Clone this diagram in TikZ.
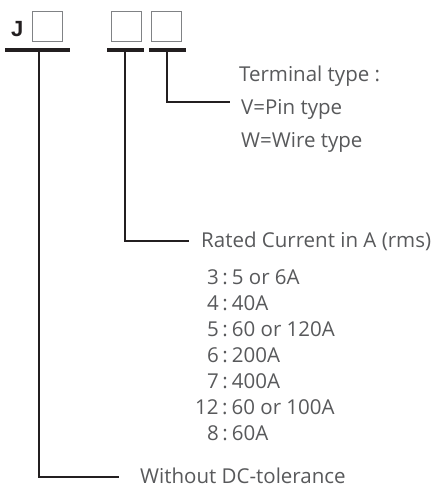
\documentclass[tikz,border=0pt]{standalone}
\usepackage{fontspec}
\setmainfont{Open Sans}
\newfontfamily\jfont{Liberation Sans}
\definecolor{txt}{HTML}{58595B}
\definecolor{ln}{HTML}{231F20}
\definecolor{bx}{HTML}{808285}
\newcommand{\colsep}{\kern3.5pt:\kern4pt}
\begin{document}
\begin{tikzpicture}[x=1pt,y=-1pt,
  box/.style={draw=bx,line width=1pt,minimum size=30pt,inner sep=0pt},
  bar/.style={draw=ln,line width=3.2pt},
  conn/.style={draw=ln,line width=2.6pt,line join=miter},
  lbl/.style={text=txt,font=\fontsize{20.5}{24}\selectfont,anchor=base west,inner sep=0pt},
]
\useasboundingbox (0,0) rectangle (441,489);
% code
\node[font=\jfont\bfseries\fontsize{22}{26}\selectfont,text=ln,anchor=base west,inner sep=0pt] (J) at (11,37) {J};
\node[box] (b1) at (47.5,27) {};
\node[box] (b2) at (126.5,27) {};
\node[box] (b3) at (166.5,27) {};
\draw[bar] (5,50) -- (70,50);
\draw[bar] (107,50) -- (144,50);
\draw[bar] (149,50) -- (186,50);
\coordinate (u1) at (39,50);
\coordinate (u2) at (125,50);
\coordinate (u3) at (167,50);
% labels
\node[lbl] (term) at (239,82) {Terminal type :};
\node[lbl] (pin) at (241,115) {V=Pin type};
\node[lbl] (wire) at (241,148) {W=Wire type};
\node[lbl] (rated) at (201,247) {Rated Current in A (rms)};
\node[lbl] (l3) at (207,284) {3\colsep 5 or 6A};
\node[lbl] (l4) at (207,310) {4\colsep 40A};
\node[lbl] (l5) at (207,336) {5\colsep 60 or 120A};
\node[lbl] (l6) at (207,362) {6\colsep 200A};
\node[lbl] (l7) at (207,388) {7\colsep 400A};
\node[lbl] (l12) at (195,414) {12\colsep 60 or 100A};
\node[lbl] (l8) at (207,440) {8\colsep 60A};
\node[lbl] (without) at (140,483) {Without DC-tolerance};
% connectors
\coordinate (c3) at (230,102);
\coordinate (c2) at (189,241);
\coordinate (c1) at (119,477);
\draw[conn] (u3) |- (c3);
\draw[conn] (u2) |- (c2);
\draw[conn] (u1) |- (c1);
\end{tikzpicture}
\end{document}
